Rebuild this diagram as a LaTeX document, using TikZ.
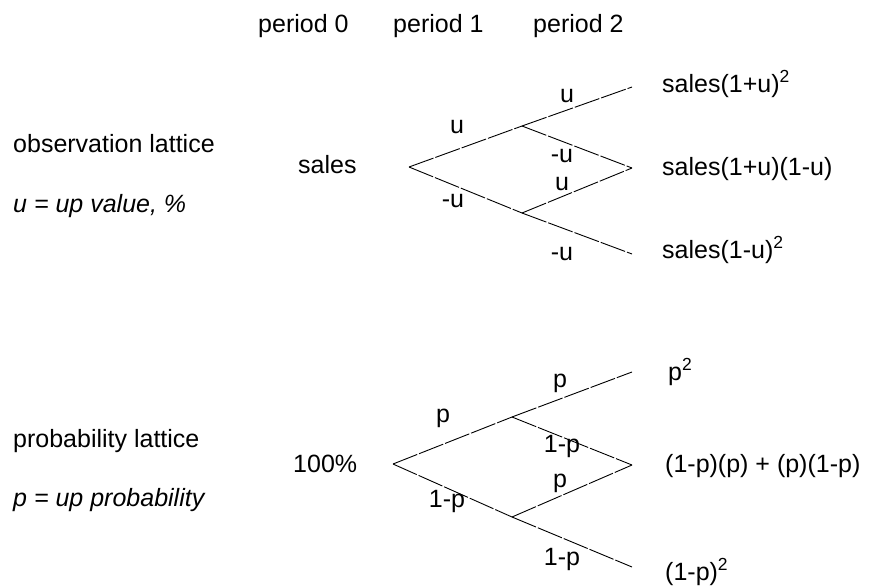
\documentclass[tikz,border=0pt]{standalone}
\usepackage{fontspec}
\setmainfont{Liberation Sans}
\usetikzlibrary{positioning}

\begin{document}
\begin{tikzpicture}[
  x=1pt, y=-1pt,
  every node/.style={
    font=\fontsize{25}{29}\selectfont,
    text=black,
    inner sep=0pt
  },
  txt/.style={anchor=base west},
  lbl/.style={anchor=base},
  note/.style={anchor=base west, font=\fontsize{25}{29}\selectfont\itshape},
  branch/.style={
    draw=black,
    line width=0.9pt,
    dash pattern=on 26pt off 2pt
  }
]
  \useasboundingbox (0,0) rectangle (870,587);

  % period headings
  \node[txt] (per0) at (258,32) {period 0};
  \node[txt] (per1) at (393,32) {period 1};
  \node[txt] (per2) at (533,32) {period 2};

  % observation lattice
  \node[txt] (obs) at (13,152) {observation lattice};
  \node[note] (obsnote) at (13,212) {u = up value, \%};
  \node[txt] (sales) at (298,173) {sales};

  \coordinate (s0) at (409,167);
  \coordinate (su) at (522,126);
  \coordinate (sd) at (522,213);
  \coordinate (suu) at (632,87);
  \coordinate (sud) at (632,168);
  \coordinate (sdd) at (632,254);

  \draw[branch] (s0) -- (su);
  \draw[branch] (s0) -- (sd);
  \draw[branch] (su) -- (suu);
  \draw[branch] (su) -- (sud);
  \draw[branch] (sd) -- (sud);
  \draw[branch] (sd) -- (sdd);

  \node[lbl] (lsu) at (457,133) {u};
  \node[lbl] (lsd) at (453,207) {-u};
  \node[lbl] (lsuu) at (567,102) {u};
  \node[lbl] (lsud) at (562,162) {-u};
  \node[lbl] (lsdu) at (562,190) {u};
  \node[lbl] (lsdd) at (562,260) {-u};

  \node[txt] (vuu) at (662,92) {sales(1+u)\textsuperscript{2}};
  \node[txt] (vud) at (662,175) {sales(1+u)(1-u)};
  \node[txt] (vdd) at (662,258) {sales(1-u)\textsuperscript{2}};

  % probability lattice
  \node[txt] (prob) at (13,447) {probability lattice};
  \node[note] (probnote) at (13,506) {p = up probability};
  \node[txt] (full) at (293,472) {100\%};

  \coordinate (p0) at (393,464);
  \coordinate (pu) at (512,417);
  \coordinate (pd) at (512,517);
  \coordinate (puu) at (632,372);
  \coordinate (pud) at (632,465);
  \coordinate (pdd) at (632,567);

  \draw[branch] (p0) -- (pu);
  \draw[branch] (p0) -- (pd);
  \draw[branch] (pu) -- (puu);
  \draw[branch] (pu) -- (pud);
  \draw[branch] (pd) -- (pud);
  \draw[branch] (pd) -- (pdd);

  \node[lbl] (lpu) at (443,422) {p};
  \node[lbl] (lpd) at (447,507) {1-p};
  \node[lbl] (lpuu) at (560,387) {p};
  \node[lbl] (lpud) at (562,452) {1-p};
  \node[lbl] (lpdu) at (560,487) {p};
  \node[lbl] (lpdd) at (562,565) {1-p};

  \node[txt] (quu) at (668,380) {p\textsuperscript{2}};
  \node[txt] (qud) at (665,472) {(1-p)(p) + (p)(1-p)};
  \node[txt] (qdd) at (665,580) {(1-p)\textsuperscript{2}};
\end{tikzpicture}
\end{document}
